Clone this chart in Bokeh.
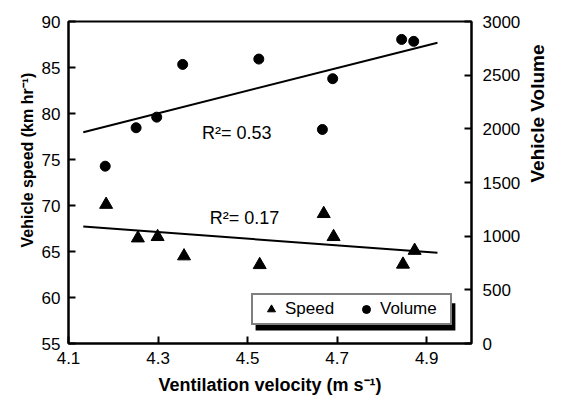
import math
from bokeh.plotting import figure
from bokeh.models import (LinearAxis, Range1d, Label, Legend, LegendItem,
                          BoxAnnotation, FixedTicker, Title)
from bokeh.embed import file_html
from bokeh.resources import INLINE

# ---- data ----
speed_x = [4.184, 4.255, 4.299, 4.358, 4.527, 4.670, 4.692, 4.847, 4.873]
speed_y = [70.1, 66.45, 66.6, 64.5, 63.55, 69.1, 66.6, 63.6, 65.1]
volume_x = [4.182, 4.251, 4.297, 4.355, 4.525, 4.667, 4.690, 4.844, 4.871]
volume_y = [1652, 2010, 2109, 2600, 2650, 1994, 2467, 2833, 2815]
trend_x = [4.133, 4.924]
speed_trend = [67.72, 64.86]
volume_trend = [1969, 2802]
x_ticks = [4.1, 4.3, 4.5, 4.7, 4.9]
left_ticks = [55, 60, 65, 70, 75, 80, 85, 90]
right_ticks = [0, 500, 1000, 1500, 2000, 2500, 3000]
r2_speed = "R²= 0.17"
r2_volume = "R²= 0.53"

FONT = "Liberation Sans"

p = figure(width=561, height=398, output_backend="svg", toolbar_location=None,
           x_range=Range1d(4.1, 5.0), y_range=Range1d(55, 90),
           min_border_left=68, min_border_right=87, min_border_top=21,
           min_border_bottom=55)
p.extra_y_ranges = {"vol": Range1d(0, 3000)}
p.grid.visible = False
p.outline_line_color = "black"
p.outline_line_width = 2
p.background_fill_color = "white"
p.border_fill_color = "white"

right_axis = LinearAxis(y_range_name="vol")
p.add_layout(right_axis, "right")

for ax in [p.xaxis[0], p.yaxis[0], right_axis]:
    ax.axis_line_width = 2
    ax.axis_line_color = "black"
    ax.major_tick_in = 7
    ax.major_tick_out = 0
    ax.minor_tick_in = 0
    ax.minor_tick_out = 0
    ax.major_tick_line_width = 2
    ax.major_tick_line_color = "black"
    ax.major_label_text_font = FONT
    ax.major_label_text_font_size = "17px"
    ax.major_label_text_color = "black"
    ax.axis_label_text_font = FONT
    ax.axis_label_text_font_size = "18px"
    ax.axis_label_text_font_style = "bold"
    ax.axis_label_text_color = "black"

p.xaxis[0].ticker = FixedTicker(ticks=x_ticks)
p.yaxis[0].ticker = FixedTicker(ticks=left_ticks)
right_axis.ticker = FixedTicker(ticks=right_ticks)
p.xaxis[0].major_label_standoff = 8
p.yaxis[0].major_label_standoff = 8
right_axis.major_label_standoff = 11
p.xaxis[0].axis_label = "Ventilation velocity (m s⁻¹)"
p.xaxis[0].axis_label_standoff = 8
right_axis.axis_label = "Vehicle Volume"
right_axis.axis_label_standoff = 14
right_axis.axis_label_text_font_size = "19px"
right_axis.axis_label_orientation = math.pi / 2

# left axis title as a side title (it sits above the axis centre in the reference)
p.add_layout(Title(text="Vehicle speed (km hr⁻¹)", align="left", offset=96,
                   text_font=FONT, text_font_size="16px", text_font_style="bold",
                   text_color="black", standoff=6), "left")

# trend lines
p.line(trend_x, volume_trend, y_range_name="vol", line_color="black", line_width=2)
p.line(trend_x, speed_trend, line_color="black", line_width=2)

tri = p.scatter(speed_x, speed_y, marker="triangle", size=13,
                fill_color="black", line_color="black")
circ = p.scatter(volume_x, volume_y, y_range_name="vol", marker="circle", size=10,
                 fill_color="black", line_color="black")

p.add_layout(Label(x=4.398, y=77.86, text=r2_volume, text_font=FONT,
                   text_font_size="18px", text_color="black",
                   text_baseline="alphabetic"))
p.add_layout(Label(x=4.4156, y=68.62, text=r2_speed, text_font=FONT,
                   text_font_size="18px", text_color="black",
                   text_baseline="alphabetic"))

# legend shadow
p.add_layout(BoxAnnotation(left=4.5178, right=4.964, bottom=56.41, top=59.38,
                           fill_color="black", fill_alpha=1, line_alpha=0))

legend = Legend(items=[LegendItem(label="Speed", renderers=[tri]),
                       LegendItem(label="Volume", renderers=[circ])],
                orientation="horizontal", location=(183, 18),
                border_line_color="black", border_line_width=2,
                background_fill_color="white", background_fill_alpha=1,
                padding=4, spacing=1, margin=0, glyph_width=28, glyph_height=20,
                label_standoff=0, label_width=66,
                label_text_font=FONT, label_text_font_size="17px",
                label_text_color="black")
p.add_layout(legend)

open("out.html", "w").write(file_html(p, INLINE))
